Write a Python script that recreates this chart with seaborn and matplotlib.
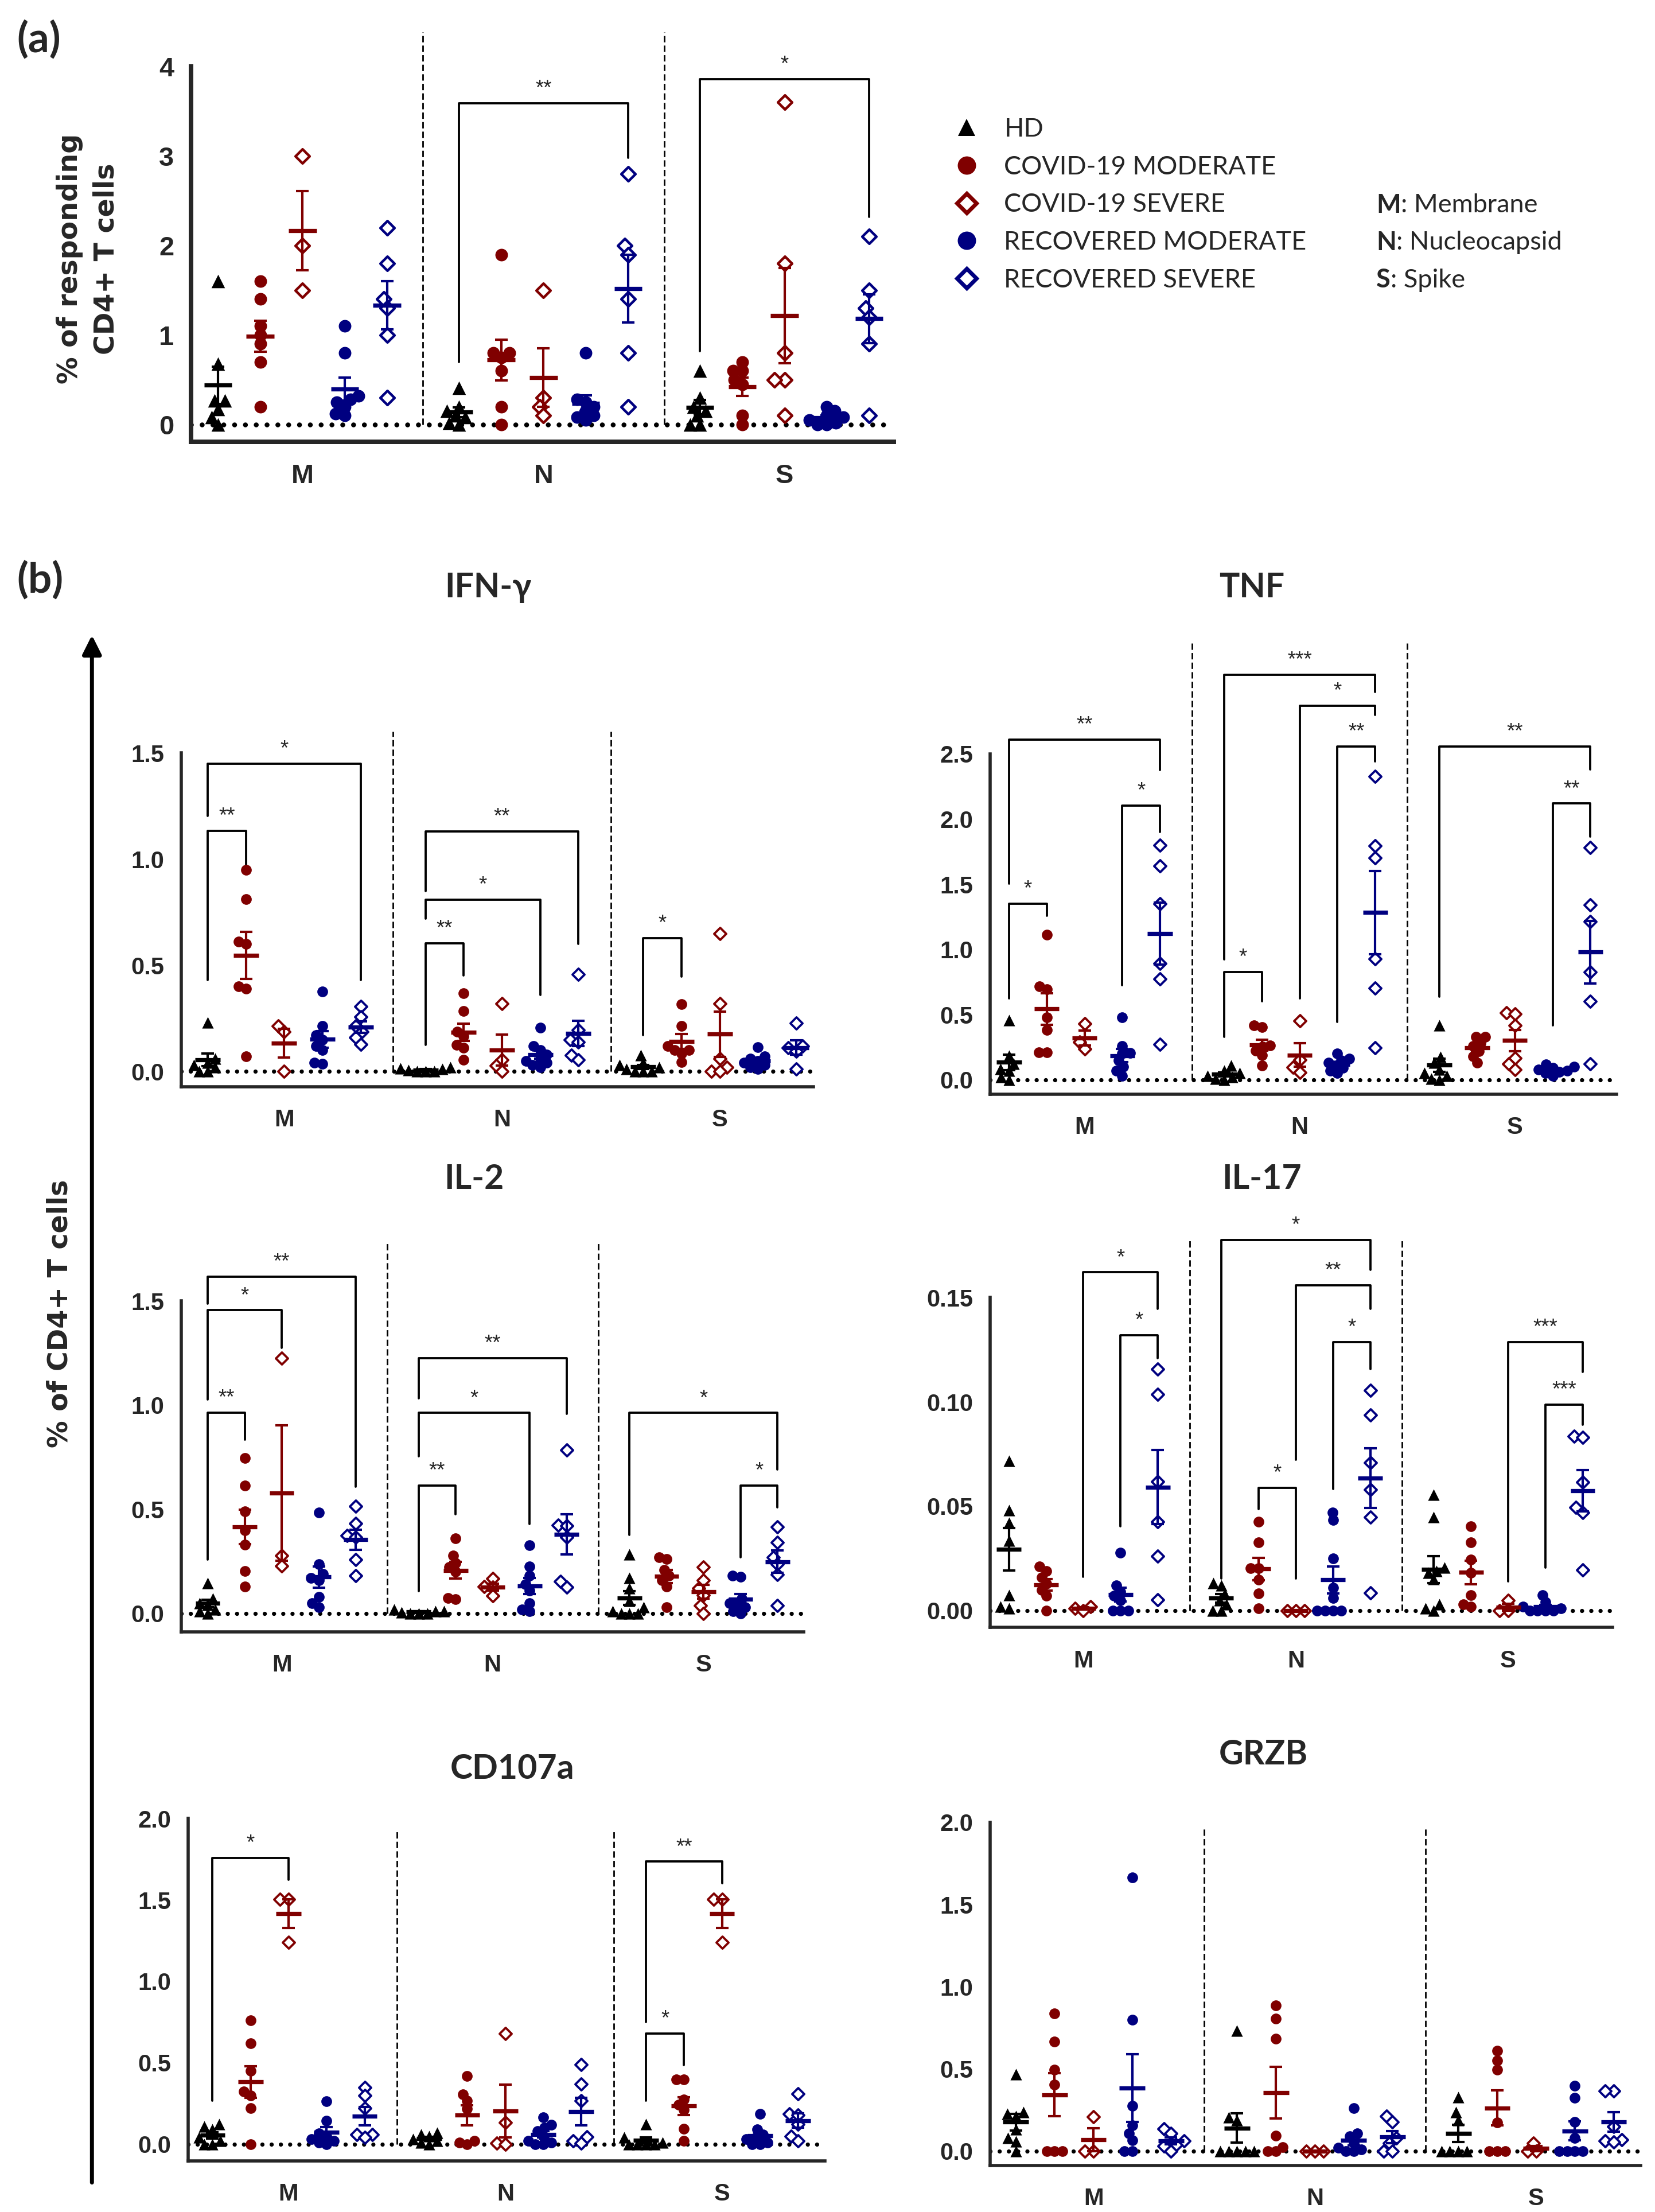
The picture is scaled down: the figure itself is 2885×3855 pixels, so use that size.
import numpy as np
import pandas as pd
import seaborn as sns
import matplotlib
matplotlib.use("Agg")
import matplotlib.pyplot as plt
from matplotlib.lines import Line2D
from matplotlib.patches import FancyArrowPatch

# ---------------- data ----------------
antigens = ["M", "N", "S"]
antigen_names = ["Membrane", "Nucleocapsid", "Spike"]
groups = ["HD", "COVID-19 MODERATE", "COVID-19 SEVERE",
          "RECOVERED MODERATE", "RECOVERED SEVERE"]

# (a) % of responding CD4+ T cells ; each list = [M, N, S]
resp_hd = [[1.6, 0.68, 0.27, 0.27, 0.17, 0.08, 0.0], [0.41, 0.2, 0.15, 0.1, 0.08, 0.02, 0.0], [0.6, 0.3, 0.2, 0.15, 0.1, 0.0, 0.0]]
resp_cm = [[1.6, 1.4, 1.1, 1.0, 0.9, 0.7, 0.2], [1.9, 0.8, 0.8, 0.75, 0.6, 0.2, 0.0], [0.7, 0.6, 0.6, 0.5, 0.45, 0.1, 0.0]]
resp_cs = [[3.0, 2.0, 1.5], [1.5, 0.3, 0.2, 0.1], [3.6, 1.8, 0.8, 0.5, 0.5, 0.1]]
resp_rm = [[1.1, 0.8, 0.32, 0.28, 0.25, 0.2, 0.12, 0.1], [0.8, 0.28, 0.25, 0.2, 0.15, 0.1, 0.08, 0.05], [0.2, 0.15, 0.1, 0.08, 0.05, 0.02, 0.0, 0.0]]
resp_rs = [[2.2, 1.8, 1.4, 1.3, 1.0, 0.3], [2.8, 2.0, 1.9, 1.4, 0.8, 0.2], [2.1, 1.5, 1.3, 1.2, 0.9, 0.1]]

ifng_hd = [[0.23, 0.06, 0.04, 0.03, 0.02, 0.0, 0.0], [0.02, 0.015, 0.01, 0.005, 0.0, 0.0, 0.0], [0.076, 0.04, 0.03, 0.02, 0.01, 0.0, 0.0, 0.0]]
ifng_cm = [[0.95, 0.81, 0.61, 0.6, 0.4, 0.39, 0.07], [0.367, 0.284, 0.187, 0.166, 0.124, 0.11, 0.055], [0.318, 0.214, 0.12, 0.1, 0.1, 0.085, 0.045]]
ifng_cs = [[0.214, 0.187, 0.0], [0.32, 0.055, 0.028, 0.0], [0.65, 0.32, 0.06, 0.02, 0.0, 0.0]]
ifng_rm = [[0.376, 0.215, 0.17, 0.15, 0.12, 0.1, 0.04, 0.035], [0.205, 0.12, 0.1, 0.08, 0.06, 0.05, 0.04, 0.03, 0.02], [0.115, 0.07, 0.06, 0.05, 0.04, 0.03, 0.02, 0.01]]
ifng_rs = [[0.307, 0.256, 0.214, 0.187, 0.159, 0.127], [0.456, 0.194, 0.15, 0.138, 0.076, 0.055], [0.228, 0.12, 0.11, 0.095, 0.01]]

tnf_hd = [[0.457, 0.186, 0.121, 0.083, 0.07, 0.02, 0.0], [0.108, 0.07, 0.05, 0.03, 0.02, 0.01, 0.0], [0.419, 0.173, 0.13, 0.08, 0.05, 0.03, 0.01, 0.0]]
tnf_cm = [[1.111, 0.716, 0.695, 0.478, 0.38, 0.212, 0.212], [0.419, 0.406, 0.264, 0.256, 0.225, 0.19, 0.108], [0.328, 0.328, 0.28, 0.26, 0.22, 0.18, 0.13]]
tnf_cs = [[0.43, 0.29, 0.238], [0.452, 0.152, 0.096, 0.057], [0.514, 0.504, 0.419, 0.168, 0.121, 0.078]]
tnf_rm = [[0.478, 0.258, 0.204, 0.2, 0.147, 0.1, 0.07, 0.03], [0.2, 0.16, 0.15, 0.13, 0.11, 0.09, 0.07, 0.05], [0.12, 0.1, 0.09, 0.08, 0.07, 0.06, 0.05, 0.03]]
tnf_rs = [[1.8, 1.64, 1.35, 0.891, 0.775, 0.271], [2.326, 1.796, 1.703, 0.928, 0.703, 0.245], [1.78, 1.341, 1.214, 0.827, 0.6, 0.121]]

il2_hd = [[0.145, 0.07, 0.05, 0.04, 0.02, 0.01, 0.0], [0.02, 0.01, 0.01, 0.005, 0.0, 0.0, 0.0], [0.284, 0.17, 0.12, 0.06, 0.03, 0.01, 0.0, 0.0, 0.0]]
il2_cm = [[0.747, 0.613, 0.49, 0.4, 0.33, 0.202, 0.129], [0.36, 0.277, 0.243, 0.222, 0.2, 0.074, 0.069], [0.27, 0.26, 0.21, 0.18, 0.16, 0.13, 0.03]]
il2_cs = [[1.225, 0.277, 0.229], [0.168, 0.129, 0.126, 0.085], [0.222, 0.16, 0.12, 0.088, 0.037, 0.0]]
il2_rm = [[0.484, 0.236, 0.19, 0.17, 0.16, 0.078, 0.05, 0.03], [0.326, 0.225, 0.18, 0.14, 0.11, 0.05, 0.02, 0.01], [0.181, 0.175, 0.07, 0.05, 0.04, 0.03, 0.01, 0.0]]
il2_rs = [[0.514, 0.431, 0.374, 0.367, 0.257, 0.181], [0.783, 0.424, 0.42, 0.367, 0.154, 0.126], [0.415, 0.342, 0.27, 0.236, 0.188, 0.037]]

il17_hd = [[0.0718, 0.048, 0.042, 0.0334, 0.0074, 0.002, 0.001], [0.0133, 0.012, 0.008, 0.005, 0.003, 0.0, 0.0], [0.0555, 0.0449, 0.0206, 0.019, 0.018, 0.015, 0.003, 0.001, 0.0]]
il17_cm = [[0.021, 0.019, 0.016, 0.013, 0.01, 0.007, 0.0], [0.0427, 0.0327, 0.0203, 0.0203, 0.0147, 0.0081, 0.001], [0.0405, 0.0327, 0.0243, 0.018, 0.0074, 0.003, 0.002]]
il17_cs = [[0.002, 0.001, 0.0], [0.0, 0.0, 0.0], [0.0049, 0.0, 0.0]]
il17_rm = [[0.0277, 0.012, 0.009, 0.007, 0.005, 0.0, 0.0, 0.0], [0.0471, 0.0435, 0.025, 0.011, 0.006, 0.0, 0.0, 0.0, 0.0], [0.0074, 0.004, 0.002, 0.001, 0.0, 0.0, 0.0, 0.0]]
il17_rs = [[0.1157, 0.1036, 0.0617, 0.0427, 0.026, 0.0052], [0.1056, 0.0936, 0.071, 0.0579, 0.0449, 0.0084], [0.0835, 0.083, 0.0614, 0.0494, 0.0471, 0.0196]]

cd107_hd = [[0.124, 0.108, 0.092, 0.04, 0.02, 0.0, 0.0], [0.07, 0.06, 0.05, 0.03, 0.02, 0.01, 0.0], [0.124, 0.04, 0.01, 0.0, 0.0, 0.0, 0.0]]
cd107_cm = [[0.759, 0.619, 0.449, 0.322, 0.3, 0.222, 0.0], [0.417, 0.306, 0.267, 0.219, 0.02, 0.01, 0.0], [0.397, 0.397, 0.275, 0.243, 0.21, 0.095, 0.02]]
cd107_cs = [[1.505, 1.505, 1.24], [0.679, 0.132, 0.005, 0.0], [1.505, 1.505, 1.24]]
cd107_rm = [[0.262, 0.143, 0.065, 0.05, 0.03, 0.02, 0.01, 0.0], [0.163, 0.12, 0.1, 0.08, 0.05, 0.02, 0.01, 0.0, 0.0], [0.184, 0.09, 0.06, 0.04, 0.03, 0.01, 0.0, 0.0]]
cd107_rs = [[0.349, 0.298, 0.222, 0.06, 0.06, 0.04], [0.489, 0.37, 0.267, 0.044, 0.02, 0.005], [0.31, 0.187, 0.18, 0.124, 0.048, 0.02]]

grzb_hd = [[0.468, 0.236, 0.225, 0.213, 0.134, 0.079, 0.06, 0.0], [0.732, 0.205, 0.19, 0.0, 0.0, 0.0, 0.0, 0.0], [0.328, 0.236, 0.189, 0.0, 0.0, 0.0, 0.0]]
grzb_cm = [[0.838, 0.666, 0.496, 0.405, 0.0, 0.0, 0.0], [0.887, 0.806, 0.685, 0.094, 0.024, 0.0, 0.0], [0.611, 0.551, 0.496, 0.176, 0.0, 0.0, 0.0]]
grzb_cs = [[0.208, 0.0, 0.0], [0.0, 0.0, 0.0], [0.047, 0.0, 0.0]]
grzb_rm = [[1.665, 0.798, 0.276, 0.157, 0.107, 0.066, 0.0, 0.0], [0.26, 0.107, 0.09, 0.05, 0.02, 0.01, 0.0, 0.0], [0.398, 0.326, 0.178, 0.079, 0.0, 0.0, 0.0, 0.0]]
grzb_rs = [[0.137, 0.107, 0.063, 0.04, 0.03, 0.0], [0.213, 0.178, 0.079, 0.047, 0.0, 0.0], [0.365, 0.365, 0.15, 0.07, 0.063, 0.055]]

# significance brackets: (antigen, group from, group to, bar level, left leg end, right leg end, label)
resp_brackets = [(1, 0, 4, 3.59, 0.7, 2.98, "**"), (2, 0, 4, 3.86, 0.82, 2.32, "*")]
ifng_brackets = [(0, 0, 1, 1.134, 0.43, 0.968, "**"), (0, 0, 4, 1.448, 1.203, 0.43, "*"),
                 (1, 0, 1, 0.604, 0.124, 0.452, "**"), (1, 0, 3, 0.809, 0.72, 0.36, "*"),
                 (1, 0, 4, 1.131, 0.85, 0.60, "**"), (2, 0, 1, 0.627, 0.17, 0.447, "*")]
tnf_brackets = [(0, 0, 1, 1.349, 0.625, 1.258, "*"), (0, 0, 4, 2.61, 1.504, 2.377, "**"),
                (0, 3, 4, 2.103, 0.724, 1.899, "*"), (1, 0, 1, 0.827, 0.328, 0.60, "*"),
                (1, 0, 4, 3.106, 0.922, 2.977, "***"), (1, 2, 4, 2.868, 0.625, 2.801, "*"),
                (1, 3, 4, 2.556, 0.444, 2.442, "**"), (2, 0, 4, 2.556, 0.638, 2.382, "**"),
                (2, 3, 4, 2.119, 0.419, 1.866, "**")]
il2_brackets = [(0, 0, 1, 0.964, 0.257, 0.834, "**"), (0, 0, 2, 1.455, 1.026, 1.273, "*"),
                (0, 0, 4, 1.617, 1.486, 0.607, "**"), (1, 0, 1, 0.613, 0.106, 0.477, "**"),
                (1, 0, 3, 0.962, 0.755, 0.429, "*"), (1, 0, 4, 1.225, 1.033, 0.957, "**"),
                (2, 0, 4, 0.962, 0.378, 0.692, "*"), (2, 3, 4, 0.614, 0.27, 0.508, "*")]
il17_brackets = [(0, 2, 4, 0.162, 0.0162, 0.1444, "*"), (0, 3, 4, 0.1319, 0.0405, 0.1208, "*"),
                 (1, 0, 4, 0.1775, 0.0155, 0.1633, "*"), (1, 1, 2, 0.0589, 0.0486, 0.0155, "*"),
                 (1, 2, 4, 0.1559, 0.0722, 0.1444, "**"), (1, 3, 4, 0.1286, 0.0582, 0.1157, "*"),
                 (2, 2, 4, 0.1286, 0.014, 0.1142, "***"), (2, 3, 4, 0.0987, 0.0206, 0.0891, "***")]
cd107_brackets = [(0, 0, 2, 1.759, 0.267, 1.624, "*"), (2, 0, 2, 1.735, 0.751, 1.603, "**"),
                  (2, 0, 1, 0.679, 0.267, 0.486, "*")]
grzb_brackets = []

# ---------------- style ----------------
RED = "#800000"
BLUE = "#000080"
group_colors = ["black", RED, RED, BLUE, BLUE]
group_markers = ["^", "o", "D", "o", "D"]
group_filled = [True, True, False, True, False]
group_sizes = [5.8, 5.4, 4.3, 5.4, 4.3]
SWARM_PACK = 0.7   # swarm is laid out with smaller dots so clusters overlap like Prism

TICK_FONT = ["Liberation Sans", "DejaVu Sans"]
LABEL_FONT = ["DejaVu Sans"]
TEXT_FONT = ["Lato", "DejaVu Sans"]

CAT_STEP = 5.7
W, H = 1170.0, 1563.0  # reference layout grid

swarm_sets = []


def fig_rect(left, top, right, bottom):
    return [left / W, 1 - bottom / H, (right - left) / W, (bottom - top) / H]


def long_frame(data):
    rows = []
    for gi, g in enumerate(groups):
        for ai, a in enumerate(antigens):
            for v in data[gi][ai]:
                rows.append({"antigen": a, "group": g,
                             "pos": ai * CAT_STEP + gi - 2, "value": v})
    return pd.DataFrame(rows)


def draw_panel(ax, data, ylim, xlim, yticks, fmt, sep_top, brackets,
               scale=1.0, spine_lw=1.6, tick_fs=12):
    df = long_frame(data)

    # dotted zero line and dashed antigen separators
    ax.axhline(0, color="black", lw=2.1 * scale, ls=(0, (0.01, 2.2)),
               dash_capstyle="round", zorder=1.5)
    for k in (0, 1):
        xs = (k + 0.5) * CAT_STEP
        ax.plot([xs, xs], [0, sep_top], color="black", lw=0.8,
                ls=(0, (4, 2)), zorder=1)

    for gi, g in enumerate(groups):
        sub = df[df.group == g]
        c = group_colors[gi]
        size = group_sizes[gi] * scale
        before = len(ax.collections)
        sns.swarmplot(data=sub, x="pos", y="value", native_scale=True, orient="x",
                      ax=ax, color=c, marker=group_markers[gi],
                      size=size * SWARM_PACK,
                      edgecolor=c, linewidth=0 if group_filled[gi] else 1.1 * scale,
                      facecolor=c if group_filled[gi] else "white", zorder=3)
        for coll in ax.collections[before:]:
            swarm_sets.append((coll, size))
        stats = sub.groupby("pos")["value"].agg(["mean", "sem"])
        ax.hlines(stats["mean"], stats.index - 0.33, stats.index + 0.33,
                  color=c, lw=2.1, zorder=4)
        ax.errorbar(stats.index, stats["mean"], yerr=stats["sem"], fmt="none",
                    ecolor=c, elinewidth=1.2, capsize=3.3, capthick=1.2, zorder=4)

    for ai, g1, g2, y, y1, y2, label in brackets:
        x1 = ai * CAT_STEP + g1 - 2
        x2 = ai * CAT_STEP + g2 - 2
        ax.plot([x1, x1, x2, x2], [y1, y, y, y2], color="black", lw=1.1, zorder=2)
        ax.annotate(label, ((x1 + x2) / 2, y), xytext=(0, 2), textcoords="offset points",
                    ha="center", va="bottom", fontsize=10.5, family=TICK_FONT)

    ax.set_xlim(xlim)
    ax.set_ylim(ylim)
    sns.despine(ax=ax)
    ax.spines["left"].set_bounds(ylim[0], yticks[-1])
    for s in ("left", "bottom"):
        ax.spines[s].set_linewidth(spine_lw)
    ax.set_yticks(yticks, labels=[fmt.format(t) for t in yticks],
                  fontsize=tick_fs, fontweight="bold", family=TICK_FONT)
    ax.set_xticks([i * CAT_STEP for i in range(len(antigens))], labels=antigens,
                  fontsize=tick_fs, fontweight="bold", family=TICK_FONT)
    ax.tick_params(axis="y", width=spine_lw, length=7.0, pad=1.5)
    ax.tick_params(axis="x", width=spine_lw, length=7, pad=4)
    ax.set_xlabel("")
    ax.set_ylabel("")


sns.set_style("white")
plt.rcParams["font.family"] = ["DejaVu Sans"]

fig = plt.figure(figsize=(11.54, 15.42), dpi=250)

panels = [
    dict(data=[resp_hd, resp_cm, resp_cs, resp_rm, resp_rs], box=(135, 15, 632, 312),
         ylim=(-0.19, 4.506), xlim=(-2.64, 13.99), yticks=[0, 1, 2, 3, 4], fmt="{:.0f}",
         sep_top=4.385, brackets=resp_brackets, title=None,
         scale=1.17, spine_lw=2.3, tick_fs=13.5),
    dict(data=[ifng_hd, ifng_cm, ifng_cs, ifng_rm, ifng_rs], box=(128, 490, 575, 768),
         ylim=(-0.073, 1.78), xlim=(-2.7, 13.85), yticks=[0.0, 0.5, 1.0, 1.5], fmt="{:.1f}",
         sep_top=1.6, brackets=ifng_brackets, title=("IFN-γ", 345, 415)),
    dict(data=[tnf_hd, tnf_cm, tnf_cs, tnf_rm, tnf_rs], box=(700, 448, 1143, 773),
         ylim=(-0.109, 3.42), xlim=(-2.5, 14.1), yticks=[0.0, 0.5, 1.0, 1.5, 2.0, 2.5],
         fmt="{:.1f}", sep_top=3.35, brackets=tnf_brackets, title=("TNF", 885, 415)),
    dict(data=[il2_hd, il2_cm, il2_cs, il2_rm, il2_rs], box=(128, 875, 568, 1153),
         ylim=(-0.088, 1.8), xlim=(-2.72, 14.1), yticks=[0.0, 0.5, 1.0, 1.5], fmt="{:.1f}",
         sep_top=1.78, brackets=il2_brackets, title=("IL-2", 335, 833)),
    dict(data=[il17_hd, il17_cm, il17_cs, il17_rm, il17_rs], box=(700, 843, 1140, 1150),
         ylim=(-0.0081, 0.2), xlim=(-2.5, 14.2), yticks=[0.0, 0.05, 0.10, 0.15], fmt="{:.2f}",
         sep_top=0.178, brackets=il17_brackets, title=("IL-17", 892, 833)),
    dict(data=[cd107_hd, cd107_cm, cd107_cs, cd107_rm, cd107_rs], box=(133, 1283, 583, 1527),
         ylim=(-0.104, 2.017), xlim=(-2.64, 14.1), yticks=[0.0, 0.5, 1.0, 1.5, 2.0], fmt="{:.1f}",
         sep_top=1.93, brackets=cd107_brackets, title=("CD107a", 362, 1250)),
    dict(data=[grzb_hd, grzb_cm, grzb_cs, grzb_rm, grzb_rs], box=(700, 1283, 1160, 1530),
         ylim=(-0.086, 2.04), xlim=(-2.66, 14.1), yticks=[0.0, 0.5, 1.0, 1.5, 2.0], fmt="{:.1f}",
         sep_top=1.976, brackets=grzb_brackets, title=("GRZB", 893, 1240)),
]

axes = []
for p in panels:
    ax = fig.add_axes(fig_rect(*p["box"]))
    ax.patch.set_alpha(0)
    draw_panel(ax, p["data"], p["ylim"], p["xlim"], p["yticks"], p["fmt"],
               p["sep_top"], p["brackets"], scale=p.get("scale", 1.0),
               spine_lw=p.get("spine_lw", 1.6), tick_fs=p.get("tick_fs", 12))
    if p["title"]:
        t, tx, ty = p["title"]
        fig.text(tx / W, 1 - ty / H, t, ha="center", va="center", fontsize=17,
                 fontweight="bold", family=TEXT_FONT)
    axes.append(ax)

# panel letters and axis labels
fig.text(12 / W, 1 - 28 / H, "(a)", ha="left", va="center", fontsize=21,
         fontweight="bold", family=TEXT_FONT)
fig.text(12 / W, 1 - 410 / H, "(b)", ha="left", va="center", fontsize=21,
         fontweight="bold", family=TEXT_FONT)
fig.text(62 / W, 1 - 183 / H, "% of responding\nCD4+ T cells", rotation=90,
         ha="center", va="center", multialignment="center", linespacing=1.45,
         fontsize=13.7, fontweight="bold", family=LABEL_FONT)
fig.text(42 / W, 1 - 928 / H, "% of CD4+ T cells", rotation=90, ha="center",
         va="center", fontsize=13.7, fontweight="bold", family=LABEL_FONT)
fig.add_artist(FancyArrowPatch((65 / W, 1 - 1545 / H), (65 / W, 1 - 446 / H),
                               transform=fig.transFigure, arrowstyle="-|>",
                               mutation_scale=20, lw=2, color="black"))

# legend
legend_sizes = [8.5, 9.2, 7.0, 9.2, 7.0]
handles = [Line2D([], [], ls="none", marker=group_markers[i], color=group_colors[i],
                  markerfacecolor=group_colors[i] if group_filled[i] else "white",
                  markeredgecolor=group_colors[i],
                  markeredgewidth=0 if group_filled[i] else 2.0,
                  markersize=legend_sizes[i])
           for i in range(len(groups))]
fig.legend(handles, groups, loc="upper left", bbox_to_anchor=(674 / W, 1 - 83 / H),
           frameon=False, prop={"family": TEXT_FONT, "size": 13}, handlelength=1.0,
           handletextpad=0.96, labelspacing=0.55, borderpad=0, borderaxespad=0)

for row, (letter, word) in enumerate(zip(antigens, antigen_names)):
    y = 1 - (145 + 26.5 * row) / H
    t = fig.text(973 / W, y, letter, ha="left", va="center", fontsize=13,
                 fontweight="bold", family=TEXT_FONT)
    axes[0].annotate(": " + word, xy=(1, 0.5), xycoords=t, ha="left", va="center",
                     fontsize=13, family=TEXT_FONT)

# lay the swarms out once with the packed size, then show the full-size markers
fig.canvas.draw()
for coll, sz in swarm_sets:
    coll.__dict__.pop("draw", None)
    coll.set_sizes([sz ** 2])

fig.savefig("out.png", dpi=250)
